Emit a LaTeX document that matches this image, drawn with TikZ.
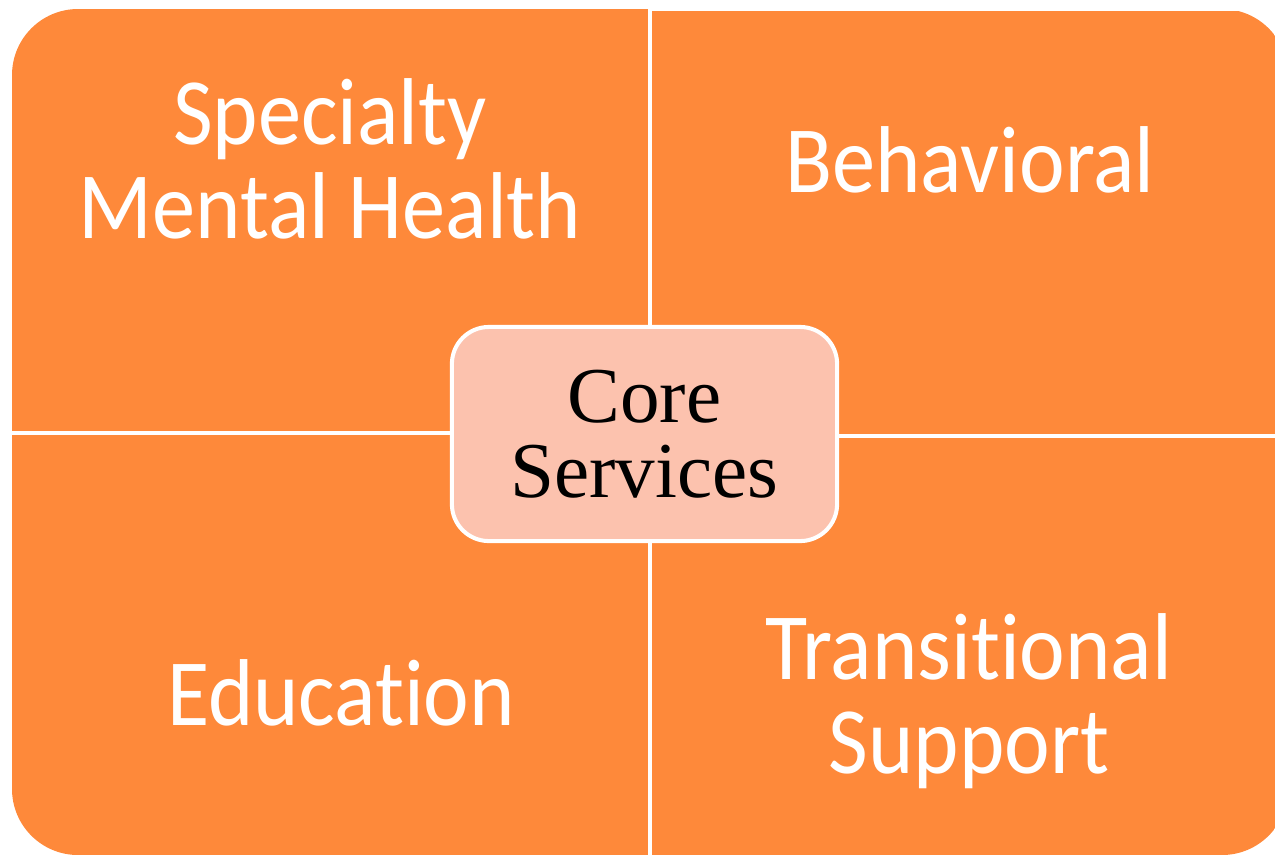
\documentclass[tikz,border=0pt]{standalone}
\usepackage{fontspec}
\setmainfont[FakeStretch=0.91,Ligatures=NoCommon]{Carlito}
\newfontfamily\coreserif{Liberation Serif}
\usetikzlibrary{positioning}
\definecolor{quadorange}{RGB}{254,137,58}
\definecolor{corepink}{RGB}{252,194,174}

\begin{document}
\begin{tikzpicture}[x=0.01cm,y=-0.01cm]
    \tikzstyle{quadtext}=[text=white,font=\fontsize{27}{26.6}\selectfont,align=center,anchor=base,inner sep=0pt]
    \tikzstyle{corebox}=[draw=white,line width=1.15pt,fill=corepink,rounded corners=0.37cm,minimum width=3.85cm,minimum height=2.14cm,align=center,font=\coreserif\fontsize{22.5}{21.3}\selectfont]
    \useasboundingbox (0,0) rectangle (1275,856);

    % Four quadrants
    \begin{scope}
        \clip[rounded corners=0.66cm] (12,9) rectangle (1288,855);
        \fill[quadorange] (12,9) rectangle (648,431);
        \fill[quadorange] (652,11) rectangle (1288,434);
        \fill[quadorange] (12,435) rectangle (648,855);
        \fill[quadorange] (652,438) rectangle (1288,855);
    \end{scope}

    % Quadrant labels (base = last line)
    \node (specialty)[quadtext] at (330,238) {Specialty\\Mental Health};
    \node (behavioral)[quadtext] at (970,192) {Behavioral};
    \node (education)[quadtext] at (341,725) {Education};
    \node (transitional)[quadtext] at (969,773) {Transitional\\Support};

    % Centre box
    \node (core)[corebox] at (644.5,434) {Core\\Services};
\end{tikzpicture}
\end{document}
